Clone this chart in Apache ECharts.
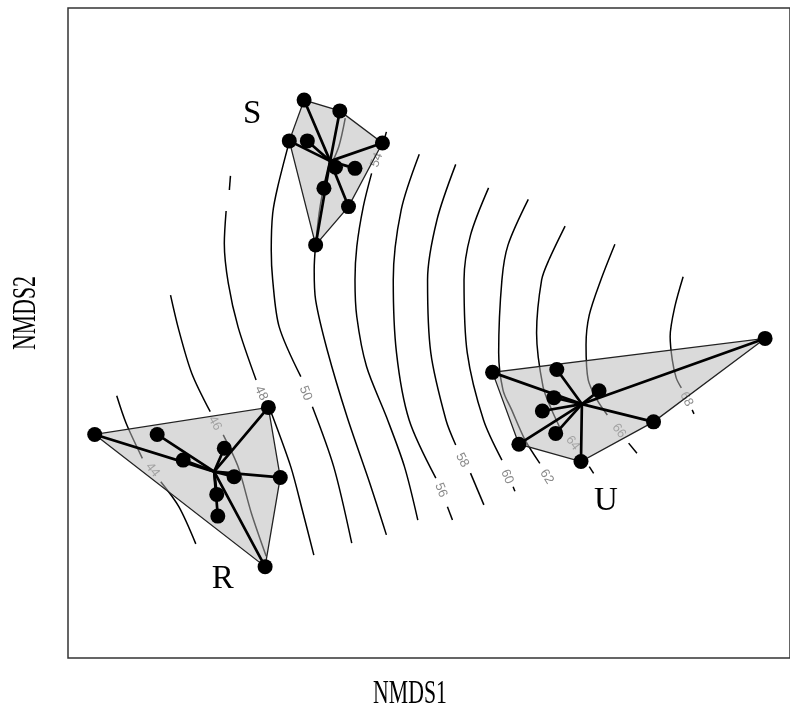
<!DOCTYPE html>
<html>
<head>
<meta charset="utf-8">
<script src="https://cdn.jsdelivr.net/npm/echarts@6/dist/echarts.min.js"></script>
<style>
  html, body { margin: 0; padding: 0; background: #fff; }
  #chart { width: 790px; height: 713px; }
</style>
</head>
<body>
<div id="chart"></div>
<script>
// Site scores on the first two NMDS axes, one array per group
const groupNames = ['R', 'S', 'U'];
const sitesR = [[-0.926,-0.281],[-0.753,-0.281],[-0.445,-0.206],[-0.681,-0.352],[-0.567,-0.319],
                [-0.540,-0.398],[-0.412,-0.400],[-0.588,-0.447],[-0.585,-0.507],[-0.454,-0.647]];
const sitesS = [[-0.346,0.645],[-0.247,0.615],[-0.129,0.526],[-0.387,0.532],[-0.337,0.532],
                [-0.259,0.459],[-0.205,0.456],[-0.291,0.401],[-0.223,0.350],[-0.314,0.244]];
const sitesU = [[0.176,-0.109],[0.354,-0.101],[0.931,-0.015],[0.471,-0.160],[0.346,-0.179],
                [0.314,-0.216],[0.622,-0.246],[0.351,-0.278],[0.249,-0.308],[0.421,-0.356]];
const groupLabelAt = [[-0.571,-0.681],[-0.490,0.605],[0.490,-0.465]];

// Contours of the fitted surface: each level is a list of line pieces
const levels = [44, 46, 48, 50, 52, 54, 56, 58, 60, 62, 64, 66, 68];
const c44 = [[[-0.865,-0.174],[-0.839,-0.250],[-0.794,-0.347]],
             [[-0.743,-0.412],[-0.693,-0.481],[-0.646,-0.584]]];
const c46 = [[[-0.716,0.105],[-0.693,0.008],[-0.657,-0.112],[-0.606,-0.218]],
             [[-0.570,-0.282],[-0.529,-0.370],[-0.492,-0.499],[-0.451,-0.618]]];
const c48 = [[[-0.550,0.435],[-0.553,0.396]],
             [[-0.562,0.338],[-0.567,0.248],[-0.556,0.138],[-0.529,0.017],[-0.479,-0.130]],
             [[-0.438,-0.218],[-0.383,-0.370],[-0.351,-0.490],[-0.319,-0.615]]];
const c50 = [[[-0.387,0.530],[-0.419,0.405],[-0.433,0.331],[-0.437,0.230],[-0.433,0.147],[-0.415,0.017],[-0.355,-0.121]],
             [[-0.323,-0.204],[-0.264,-0.370],[-0.214,-0.582]]];
const c52 = [[[-0.232,0.595],[-0.250,0.516],[-0.282,0.438],[-0.301,0.354],[-0.314,0.244],[-0.318,0.174],
              [-0.314,0.091],[-0.282,-0.047],[-0.227,-0.232],[-0.164,-0.416],[-0.118,-0.559]]];
const c54 = [[[-0.118,0.557],[-0.127,0.525]],
             [[-0.159,0.442],[-0.182,0.350],[-0.200,0.239],[-0.205,0.147],[-0.200,0.045],[-0.173,-0.093],
              [-0.118,-0.232],[-0.068,-0.370],[-0.031,-0.518]]];
const c56 = [[[-0.027,0.495],[-0.077,0.341],[-0.099,0.147],[-0.090,-0.055],[-0.055,-0.241],[0.019,-0.402]],
             [[0.051,-0.481],[0.065,-0.518]]];
const c58 = [[[0.074,0.467],[0.022,0.313],[-0.004,0.147],[0.005,-0.055],[0.047,-0.241],[0.074,-0.310]],
             [[0.115,-0.388],[0.152,-0.476]]];
const c60 = [[[0.165,0.402],[0.115,0.271],[0.097,0.147],[0.106,-0.055],[0.151,-0.241],[0.202,-0.352]],
             [[0.233,-0.426],[0.238,-0.438]]];
const c62 = [[[0.275,0.370],[0.219,0.244],[0.202,0.147],[0.193,-0.055],[0.205,-0.158],[0.229,-0.213],
              [0.266,-0.296],[0.307,-0.361]]];
const c64 = [[[0.377,0.296],[0.332,0.202],[0.312,0.147],[0.298,0.000],[0.316,-0.149],[0.340,-0.213],[0.366,-0.269]],
             [[0.444,-0.370],[0.456,-0.389]]];
const c66 = [[[0.515,0.246],[0.476,0.147],[0.444,0.050],[0.435,-0.033],[0.441,-0.130],[0.466,-0.186],[0.494,-0.227]],
             [[0.553,-0.305],[0.576,-0.333]]];
const c68 = [[[0.704,0.156],[0.681,0.073],[0.668,-0.010],[0.674,-0.075],[0.685,-0.125],[0.699,-0.152]],
             [[0.729,-0.213],[0.734,-0.224]]];
const contourPieces = [c44, c46, c48, c50, c52, c54, c56, c58, c60, c62, c64, c66, c68];
// Where each level's label sits (null: label hidden under the site symbols)
const contourLabelAt = [[-0.766,-0.379],[-0.593,-0.250],[-0.465,-0.167],[-0.342,-0.167],null,
                        [-0.145,0.479],[0.033,-0.435],[0.092,-0.352],[0.216,-0.398],[0.326,-0.398],
                        [0.398,-0.305],[0.526,-0.271],[0.713,-0.183]];

const siteSets = [sitesR, sitesS, sitesU];

function centroid(pts) {
  let sx = 0, sy = 0;
  pts.forEach(p => { sx += p[0]; sy += p[1]; });
  return [sx / pts.length, sy / pts.length];
}

function convexHull(pts) {
  const p = pts.slice().sort((a, b) => a[0] - b[0] || a[1] - b[1]);
  const cross = (o, a, b) => (a[0] - o[0]) * (b[1] - o[1]) - (a[1] - o[1]) * (b[0] - o[0]);
  const lower = [];
  for (const q of p) {
    while (lower.length >= 2 && cross(lower[lower.length - 2], lower[lower.length - 1], q) <= 0) lower.pop();
    lower.push(q);
  }
  const upper = [];
  for (let i = p.length - 1; i >= 0; i--) {
    const q = p[i];
    while (upper.length >= 2 && cross(upper[upper.length - 2], upper[upper.length - 1], q) <= 0) upper.pop();
    upper.push(q);
  }
  upper.pop(); lower.pop();
  return lower.concat(upper);
}

const chart = echarts.init(document.getElementById('chart'), null, { renderer: 'canvas' });

const series = [];

// contour lines
contourPieces.forEach(pieces => {
  pieces.forEach(seg => {
    series.push({
      type: 'line', data: seg, smooth: 0.3, symbol: 'none', silent: true,
      lineStyle: { color: '#000', width: 1.5, opacity: 1 }, z: 1
    });
  });
});

// convex hulls of each group
series.push({
  type: 'custom', coordinateSystem: 'cartesian2d', silent: true, z: 3,
  data: [[0, 0], [1, 0], [2, 0]],
  encode: { x: 0, y: 1 },
  renderItem: (params, api) => {
    const g = siteSets[params.dataIndex];
    const pts = convexHull(g).map(p => api.coord(p));
    return {
      type: 'polygon', shape: { points: pts },
      style: { fill: 'rgba(185,185,185,0.52)', stroke: '#222', lineWidth: 1.3 }
    };
  }
});

// spider lines from each group centroid to its sites
const spokes = [];
siteSets.forEach(g => {
  const c = centroid(g);
  g.forEach(p => spokes.push([c[0], c[1], p[0], p[1]]));
});
series.push({
  type: 'custom', coordinateSystem: 'cartesian2d', silent: true, z: 4,
  data: spokes,
  encode: { x: [0, 2], y: [1, 3] },
  renderItem: (params, api) => {
    const a = api.coord([api.value(0), api.value(1)]);
    const b = api.coord([api.value(2), api.value(3)]);
    return {
      type: 'line', shape: { x1: a[0], y1: a[1], x2: b[0], y2: b[1] },
      style: { stroke: '#000', lineWidth: 2.7, lineCap: 'round' }
    };
  }
});

// site symbols
series.push({
  type: 'scatter', silent: true, z: 5, symbolSize: 15,
  itemStyle: { color: '#000', opacity: 1 },
  data: [].concat(sitesR, sitesS, sitesU)
});

// group names
series.push({
  type: 'scatter', silent: true, z: 6, symbolSize: 0,
  itemStyle: { opacity: 1 },
  data: groupLabelAt.map((p, i) => ({ value: p, name: groupNames[i] })),
  label: {
    show: true, position: 'inside', formatter: '{b}', color: '#000', opacity: 1,
    fontFamily: '"Liberation Serif", "DejaVu Serif", serif', fontSize: 33
  }
});

const option = {
  animation: false,
  backgroundColor: '#fff',
  grid: {
    left: 68, top: 8, right: -8, bottom: 55,
    show: true, borderColor: '#333', borderWidth: 1.5, backgroundColor: 'transparent'
  },
  xAxis: {
    type: 'value', min: -1, max: 1,
    axisLine: { show: false }, axisTick: { show: false }, axisLabel: { show: false }, splitLine: { show: false }
  },
  yAxis: {
    type: 'value', min: -0.9, max: 0.9,
    axisLine: { show: false }, axisTick: { show: false }, axisLabel: { show: false }, splitLine: { show: false }
  },
  graphic: [
    {
      type: 'text', x: 410, y: 694, scaleX: 0.64,
      style: { text: 'NMDS1', font: '34px "Liberation Serif"', fill: '#000', textAlign: 'center', textVerticalAlign: 'middle' }
    },
    {
      type: 'text', x: 26, y: 313, rotation: Math.PI / 2, scaleX: 0.64,
      style: { text: 'NMDS2', font: '34px "Liberation Serif"', fill: '#000', textAlign: 'center', textVerticalAlign: 'middle' }
    }
  ],
  series: series
};
chart.setOption(option);

// contour labels, turned along the local direction of their line
const labelData = [];
levels.forEach((lev, li) => {
  const at = contourLabelAt[li];
  if (!at) return;
  const all = [].concat(...contourPieces[li]);
  const pa = chart.convertToPixel({ gridIndex: 0 }, at);
  const px = all.map(p => chart.convertToPixel({ gridIndex: 0 }, p));
  const order = px.map((p, i) => [Math.hypot(p[0] - pa[0], p[1] - pa[1]), i]).sort((a, b) => a[0] - b[0]);
  const i1 = Math.min(order[0][1], order[1][1]);
  const i2 = Math.max(order[0][1], order[1][1]);
  let ang = Math.atan2(-(px[i2][1] - px[i1][1]), px[i2][0] - px[i1][0]) * 180 / Math.PI;
  if (ang > 90) ang -= 180;
  if (ang < -90) ang += 180;
  labelData.push({ value: at, name: String(lev), label: { rotate: ang } });
});
series.push({
  type: 'scatter', silent: true, z: 2, symbolSize: 0,
  itemStyle: { opacity: 1 },
  data: labelData,
  label: {
    show: true, position: 'inside', formatter: '{b}', color: '#8a8a8a',
    fontFamily: '"Liberation Sans", Arial, sans-serif', fontSize: 13
  }
});
chart.setOption({ series: series });
</script>
</body>
</html>
